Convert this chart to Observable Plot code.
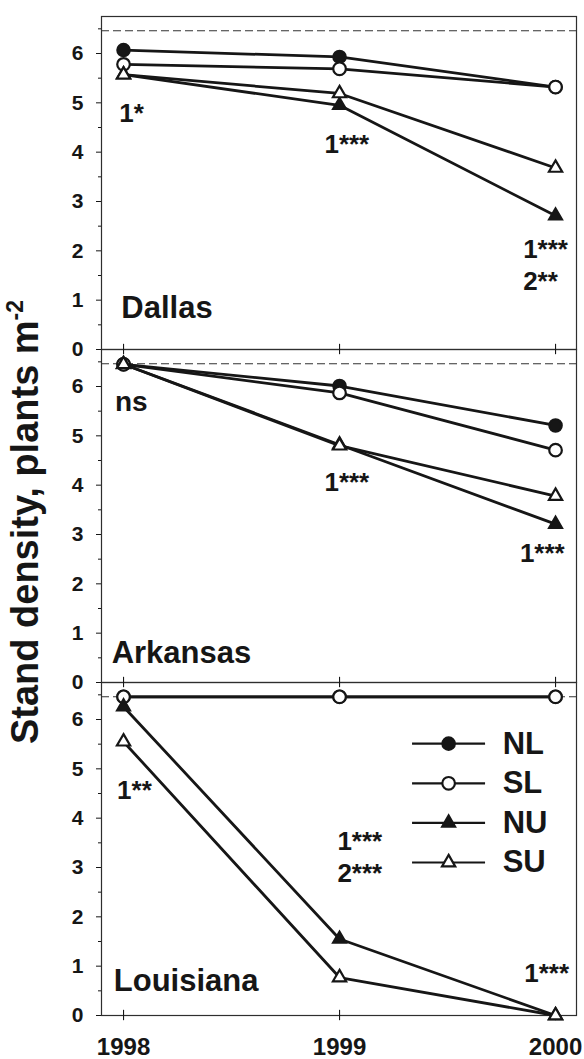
<!DOCTYPE html>
<html>
<head>
<meta charset="utf-8">
<script src="https://cdn.jsdelivr.net/npm/d3@7"></script>
<script src="https://cdn.jsdelivr.net/npm/@observablehq/plot@0.6"></script>
<style>
  body { margin: 0; background: #fff; }
  #chart { width: 584px; height: 1059px; }
</style>
</head>
<body>
<div id="chart"></div>
<script>
// ---- data ----
const locations = ["Dallas", "Arkansas", "Louisiana"];
const years = [1998, 1999, 2000];
const treatments = ["NL", "SL", "NU", "SU"];
const yTicks = [0, 1, 2, 3, 4, 5, 6];
const yMinorTicks = [0.5, 1.5, 2.5, 3.5, 4.5, 5.5, 6.5];

const dallasNL = [6.07, 5.93, 5.32];
const dallasSL = [5.78, 5.69, 5.32];
const dallasNU = [5.57, 4.95, 2.71];
const dallasSU = [5.57, 5.19, 3.68];

const arkansasNL = [6.45, 6.01, 5.21];
const arkansasSL = [6.45, 5.87, 4.71];
const arkansasNU = [6.45, 4.82, 3.21];
const arkansasSU = [6.45, 4.80, 3.78];

const louisianaNL = [6.46, 6.46, 6.46];
const louisianaSL = [6.46, 6.46, 6.46];
const louisianaNU = [6.26, 1.55, 0];
const louisianaSU = [5.55, 0.77, 0];

// reference (dashed) level per location
const refLevels = [6.46, 6.46, 6.46];

// significance annotations: location, year position, value position, text
const annLoc   = ["Dallas", "Dallas", "Dallas", "Dallas", "Arkansas", "Arkansas", "Arkansas", "Louisiana", "Louisiana", "Louisiana", "Louisiana"];
const annYear  = [1997.98, 1998.93, 1999.85, 1999.85, 1997.96, 1998.93, 1999.835, 1997.97, 1998.99, 1998.99, 1999.855];
const annValue = [4.62, 3.98, 1.85, 1.21, 5.50, 3.88, 2.45, 4.39, 3.36, 2.71, 0.67];
const annText  = ["1*", "1***", "1***", "2**", "ns", "1***", "1***", "1**", "1***", "2***", "1***"];

// panel label placement (year, value)
const labelYear  = [1997.99, 1997.945, 1997.955];
const labelValue = [0.64, 0.405, 0.506];

// ---- tables ----
const seriesByLoc = {
  Dallas: [dallasNL, dallasSL, dallasNU, dallasSU],
  Arkansas: [arkansasNL, arkansasSL, arkansasNU, arkansasSU],
  Louisiana: [louisianaNL, louisianaSL, louisianaNU, louisianaSU]
};
const data = [];
for (const loc of locations) {
  seriesByLoc[loc].forEach((vals, ti) => {
    vals.forEach((v, yi) => data.push({loc, treatment: treatments[ti], year: years[yi], value: v}));
  });
}
const refs = locations.map((loc, i) => ({loc, value: refLevels[i]}));
const anns = annLoc.map((loc, i) => ({loc, year: annYear[i], value: annValue[i], text: annText[i]}));
const labels = locations.map((loc, i) => ({loc, year: labelYear[i], value: labelValue[i]}));

const ink = "#161616";
const font = "'Liberation Sans', Arial, Helvetica, sans-serif";
const inLouisiana = () => "Louisiana";

// legend layout (in Louisiana panel)
const legIndex = t => treatments.indexOf(t);
const legY = d => 5.51 - legIndex(d) * 0.803;
const legendOf = t => treatments.filter(d => d === t);

const styleOf = {
  NL: {r: 6.3, symbol: "circle", fill: ink, strokeWidth: 2},
  SL: {r: 6.3, symbol: "circle", fill: "white", strokeWidth: 2.2},
  NU: {r: 4.9, symbol: "triangle", fill: ink, strokeWidth: 2},
  SU: {r: 4.9, symbol: "triangle", fill: "white", strokeWidth: 2.2}
};

const markerMarks = treatments.map(t =>
  Plot.dot(data.filter(d => d.treatment === t), {x: "year", y: "value", fy: "loc", stroke: ink, ...styleOf[t]}));
const legendMarkers = treatments.map(t =>
  Plot.dot(legendOf(t), {x: 1999.505, y: legY, fy: inLouisiana, stroke: ink, ...styleOf[t]}));

const chart = Plot.plot({
  width: 584,
  height: 1059,
  marginLeft: 101,
  marginRight: 8,
  marginTop: 15,
  marginBottom: 44,
  style: {fontFamily: font, background: "white", color: ink, overflow: "visible"},
  x: {domain: [1997.898, 2000.097], axis: null},
  y: {domain: [0, 6.75], axis: null},
  fy: {domain: locations, axis: null, padding: 0},
  marks: [
    Plot.ruleY(refs, {y: "value", fy: "loc", stroke: "#333", strokeWidth: 1.1, strokeDasharray: "8,4"}),
    Plot.frame({stroke: "#2e2e2e", strokeWidth: 1.2}),
    Plot.axisY({ticks: yTicks, tickSize: 5, tickPadding: 13, tickFormat: d3.format("d"), fontSize: 21, fontWeight: "bold",
                label: null, facetAnchor: null, stroke: ink, fill: ink}),
    Plot.axisY({ticks: yMinorTicks, tickSize: 3, tickFormat: () => "", label: null, facetAnchor: null, stroke: ink}),
    Plot.ruleX(years, {x: d => d, y1: -0.105, y2: 0.105, stroke: ink, strokeWidth: 1.1}),
    Plot.text(years, {x: d => d, fy: inLouisiana, frameAnchor: "bottom", dy: 39, lineAnchor: "bottom",
                      text: d => String(d), fontSize: 24, fontWeight: "bold", fill: ink}),
    // series lines
    Plot.line(data, {x: "year", y: "value", z: "treatment", fy: "loc", stroke: ink, strokeWidth: 2.8}),
    // markers
    ...markerMarks,
    // annotations
    Plot.text(anns, {x: "year", y: "value", fy: "loc", text: "text", textAnchor: "start", lineAnchor: "bottom",
                     fontSize: d => d.text === "ns" ? 28 : 26, fontWeight: "bold", fill: ink}),
    Plot.text(labels, {x: "year", y: "value", fy: "loc", text: "loc", textAnchor: "start", lineAnchor: "bottom",
                       fontSize: 31, fontWeight: "bold", fill: ink}),
    // legend
    Plot.ruleY(treatments, {y: legY, x1: 1999.338, x2: 1999.676, fy: inLouisiana, stroke: ink, strokeWidth: 2.2}),
    ...legendMarkers,
    Plot.text(treatments, {x: 1999.755, y: legY, fy: inLouisiana, text: d => d, textAnchor: "start",
                           lineAnchor: "middle", fontSize: 31, fontWeight: "bold", fill: ink})
  ]
});

// y-axis title with superscript
const t = d3.select(chart).append("text")
  .attr("transform", "translate(38,522) rotate(-90)")
  .attr("text-anchor", "middle")
  .attr("font-family", font)
  .attr("font-weight", "bold")
  .attr("font-size", 38)
  .attr("fill", ink);
t.append("tspan").text("Stand density, plants m");
t.append("tspan").attr("font-size", 23).attr("dy", -15).text("-2");

document.getElementById("chart").appendChild(chart);
</script>
</body>
</html>
